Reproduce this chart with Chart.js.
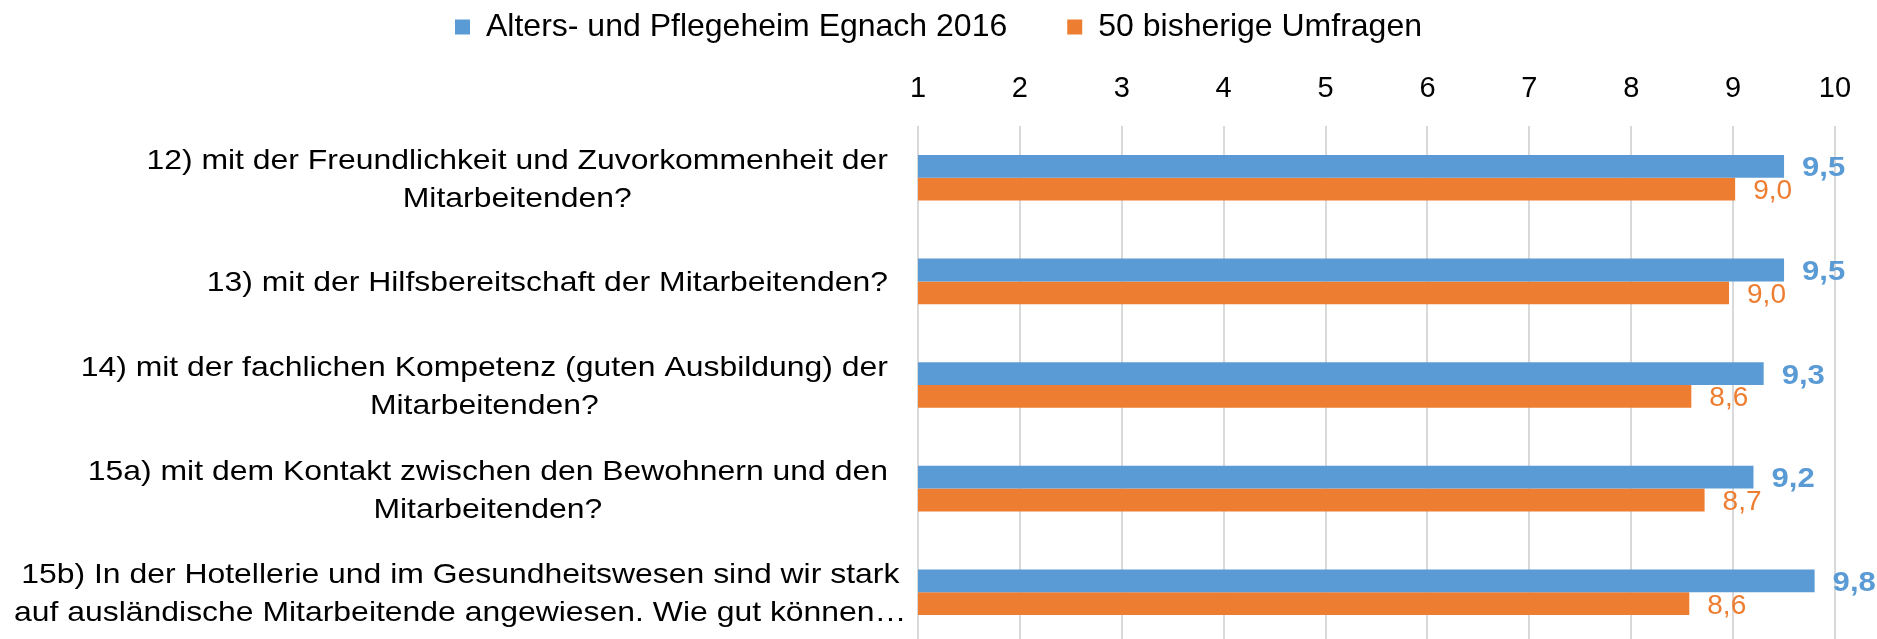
<!DOCTYPE html>
<html>
<head>
<meta charset="utf-8">
<script src="https://cdn.jsdelivr.net/npm/chart.js@4.4.1/dist/chart.umd.min.js"></script>
<style>
  html, body { margin: 0; padding: 0; background: #fff; overflow: hidden; }
  canvas { display: block; }
</style>
</head>
<body>
<canvas id="mitarbeiterChart" width="1877" height="644"></canvas>
<script>
// Zufriedenheit mit den Mitarbeitenden (Skala 1-10)
const categories = [
    ['12) mit der Freundlichkeit und Zuvorkommenheit der', 'Mitarbeitenden?'],
    ['13) mit der Hilfsbereitschaft der Mitarbeitenden?'],
    ['14) mit der fachlichen Kompetenz (guten Ausbildung) der', 'Mitarbeitenden?'],
    ['15a) mit dem Kontakt zwischen den Bewohnern und den', 'Mitarbeitenden?'],
    ['15b) In der Hotellerie und im Gesundheitswesen sind wir stark', 'auf ausländische Mitarbeitende angewiesen. Wie gut können…']
];
const seriesNames = ['Alters- und Pflegeheim Egnach 2016', '50 bisherige Umfragen'];
const egnach2016 = [9.5, 9.5, 9.3, 9.2, 9.8];
const bisherige = [9.02, 8.96, 8.59, 8.72, 8.57];
const tickValues = [1, 2, 3, 4, 5, 6, 7, 8, 9, 10];

const FONT = 'Liberation Sans, Arial, sans-serif';
Chart.defaults.font.family = FONT;
Chart.defaults.color = '#000';

const fmt = v => v.toFixed(1).replace('.', ',');

// Beschriftung der Kategorien (zentrierte Zeilen, rechtsbündiger Block)
const categoryLabels = {
    id: 'categoryLabels',
    afterDraw(chart) {
        const ctx = chart.ctx;
        const yScale = chart.scales.y;
        const right = chart.chartArea.left - 30;
        const stretch = 1.14;
        ctx.save();
        ctx.font = '28px ' + FONT;
        ctx.fillStyle = '#000';
        ctx.textAlign = 'center';
        ctx.textBaseline = 'alphabetic';
        categories.forEach((lines, i) => {
            const yc = yScale.getPixelForTick(i);
            let maxW = 0;
            lines.forEach(l => { maxW = Math.max(maxW, ctx.measureText(l).width * stretch); });
            // zu lange Bloecke ragen nach rechts (wie im Original)
            const cx = Math.max(right - maxW / 2, 14 + maxW / 2);
            lines.forEach((l, j) => {
                const y = yc + (j - (lines.length - 1) / 2) * 38 + 10;
                ctx.save();
                ctx.translate(cx, y);
                ctx.scale(stretch, 1);
                ctx.fillText(l, 0, 0);
                ctx.restore();
            });
        });
        ctx.restore();
    }
};

// Werte rechts neben den Balken
const valueLabels = {
    id: 'valueLabels',
    afterDatasetsDraw(chart) {
        const ctx = chart.ctx;
        chart.data.datasets.forEach((ds, di) => {
            const meta = chart.getDatasetMeta(di);
            meta.data.forEach((bar, i) => {
                ctx.save();
                ctx.font = (di == 0 ? 'bold ' : '') + '28px ' + FONT;
                ctx.fillStyle = ds.backgroundColor;
                ctx.textAlign = 'left';
                ctx.textBaseline = 'alphabetic';
                ctx.translate(bar.x + 18, bar.y + 10);
                if (di == 0) ctx.scale(1.11, 1);
                ctx.fillText(fmt(ds.data[i]), 0, 0);
                ctx.restore();
            });
        });
    }
};

const ctx = document.getElementById('mitarbeiterChart').getContext('2d');
new Chart(ctx, {
    type: 'bar',
    data: {
        labels: categories,
        datasets: [{
            label: seriesNames[0],
            data: egnach2016,
            backgroundColor: '#5B9BD5',
            borderWidth: 0
        }, {
            label: seriesNames[1],
            data: bisherige,
            backgroundColor: '#ED7D31',
            borderWidth: 0
        }]
    },
    options: {
        indexAxis: 'y',
        responsive: false,
        animation: false,
        devicePixelRatio: 1,
        layout: { padding: { top: -49, right: 42, left: 42, bottom: 0 } },
        datasets: {
            bar: { categoryPercentage: 0.44, barPercentage: 1 }
        },
        scales: {
            x: {
                position: 'top',
                min: 1,
                max: 10,
                afterBuildTicks: s => { s.ticks = tickValues.map(v => ({ value: v })); },
                afterFit: s => { s.height = 73; },
                ticks: { font: { size: 29 }, color: '#000', padding: 20 },
                grid: { color: '#D9D9D9', lineWidth: 2, drawTicks: false },
                border: { display: false }
            },
            y: {
                afterFit: s => { s.width = 876; },
                ticks: { display: false },
                grid: { display: false },
                border: { display: false }
            }
        },
        plugins: {
            legend: {
                position: 'top',
                labels: {
                    boxWidth: 15,
                    boxHeight: 15,
                    padding: 60,
                    color: '#000',
                    font: { size: 32 }
                }
            },
            tooltip: { enabled: false }
        }
    },
    plugins: [categoryLabels, valueLabels]
});
</script>
</body>
</html>
